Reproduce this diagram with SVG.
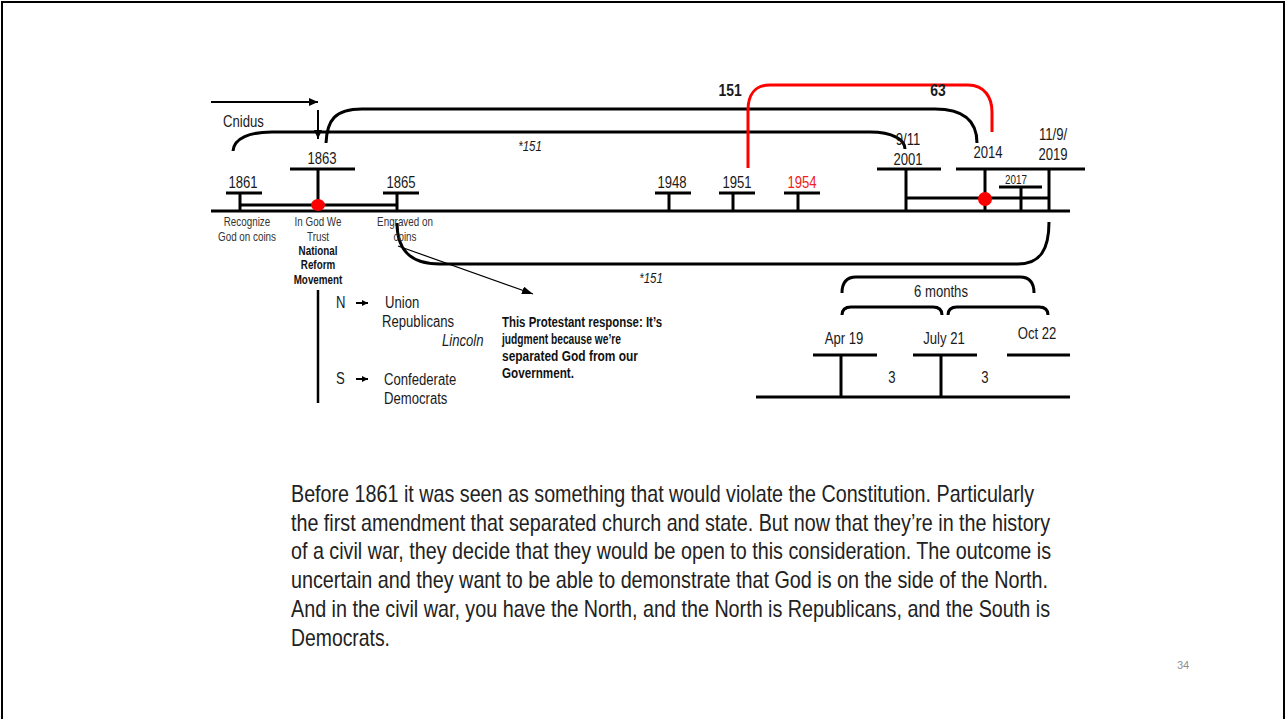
<svg xmlns="http://www.w3.org/2000/svg" width="1286" height="719" viewBox="0 0 1286 719">
<style>
.t{font-family:"Liberation Sans",Arial,sans-serif;fill:#1a1a1a}
.yr{font-size:16px;text-anchor:middle}
.sm{font-size:12px;text-anchor:middle;fill:#333}
.smb{font-size:12px;text-anchor:middle;font-weight:bold;fill:#111}
.lb{font-size:16px}
.ln{stroke:#000;stroke-width:3;fill:none}
.red{stroke:#f00;stroke-width:3;fill:none}
.par{font-size:24px;fill:#222}
.bld{font-size:14px;font-weight:bold;fill:#111}
</style>
<defs>
<marker id="ah" markerUnits="userSpaceOnUse" markerWidth="9" markerHeight="8" refX="9" refY="4" orient="auto"><path d="M0,0 L9,4 L0,8 z" fill="#000"/></marker>
<marker id="ahThin" markerUnits="userSpaceOnUse" markerWidth="11" markerHeight="8" refX="11" refY="4" orient="auto"><path d="M0,0 L11,4 L0,8 z" fill="#000"/></marker>
<marker id="ahSm" markerUnits="userSpaceOnUse" markerWidth="6" markerHeight="6" refX="6" refY="3" orient="auto"><path d="M0,0 L6,3 L0,6 z" fill="#000"/></marker>
</defs>
<rect x="0" y="0" width="1286" height="719" fill="#fff"/>
<path d="M2,719 L2,2 L1284,2 L1284,719" fill="none" stroke="#000" stroke-width="2"/>

<g id="connectors">
<path d="M211,102 L318,102" stroke="#000" stroke-width="2" fill="none" marker-end="url(#ah)"/>
<path d="M318,110 L318,139" stroke="#000" stroke-width="2" fill="none" marker-end="url(#ah)"/>
<path class="ln" d="M233,151 C234,138 250,132 272,132 L870,132 C893,132 905,140 905,149"/>
<path class="ln" d="M326,143 C327,120 335,109 362,109 L935,109 C962,109 977,120 977,143"/>
<path class="red" d="M748,168 L748,110 C748,95 755,85 770,85 L968,85 C985,85 992,98 992,112 L992,132"/>
<path class="ln" d="M397,223 C397,250 410,264 440,264 L1018,264 C1040,264 1049,250 1049,222"/>
<path d="M398,246 L533,294" stroke="#000" stroke-width="1.2" fill="none" marker-end="url(#ahThin)"/>
<path class="ln" d="M842,293 C842,282 847,277 856,277 L1020,277 C1029,277 1034,282 1034,293"/>
<path class="ln" d="M842,315 C842,310 845,307 851,307 L933,307 C939,307 942,310 942,315"/>
<path class="ln" d="M948,315 C948,310 951,307 957,307 L1039,307 C1045,307 1048,310 1048,315"/>
</g>

<g id="timeline">
<line class="ln" x1="211" y1="211" x2="1070" y2="211"/>
<line class="ln" x1="240" y1="205" x2="397" y2="205"/>
<line class="ln" x1="906" y1="198" x2="1049" y2="198"/>
</g>

<g id="labels-top">
<text class="t lb" transform="translate(223,127) scale(.82,1)">Cnidus</text>
<text class="t" transform="translate(730,96) scale(.82,1)" font-size="17" font-weight="bold" text-anchor="middle">151</text>
<text class="t" transform="translate(938,96) scale(.82,1)" font-size="17" font-weight="bold" text-anchor="middle">63</text>
<text class="t" transform="translate(530,151) scale(.82,1)" font-size="14" font-style="italic" text-anchor="middle" fill="#333">*151</text>
<text class="t" transform="translate(651,283) scale(.82,1)" font-size="14" font-style="italic" text-anchor="middle" fill="#333">*151</text>
</g>

<g id="n1861">
<line class="ln" x1="226" y1="193" x2="262" y2="193"/>
<line class="ln" x1="240" y1="193" x2="240" y2="211"/>
<text class="t yr" transform="translate(243,188) scale(.82,1)">1861</text>
<text class="t sm" transform="translate(247,226) scale(.82,1)">Recognize</text>
<text class="t sm" transform="translate(247,241) scale(.82,1)">God on coins</text>
</g>

<g id="n1863">
<line class="ln" x1="290" y1="169" x2="355" y2="169"/>
<line class="ln" x1="318" y1="169" x2="318" y2="211"/>
<ellipse cx="318" cy="205" rx="7" ry="6" fill="#f00"/>
<text class="t yr" transform="translate(322,164) scale(.82,1)">1863</text>
<text class="t sm" transform="translate(318,226) scale(.82,1)">In God We</text>
<text class="t sm" transform="translate(318,241) scale(.82,1)">Trust</text>
<text class="t smb" transform="translate(318,255) scale(.82,1)">National</text>
<text class="t smb" transform="translate(318,269) scale(.82,1)">Reform</text>
<text class="t smb" transform="translate(318,284) scale(.82,1)">Movement</text>
</g>

<g id="n1865">
<line class="ln" x1="383" y1="193" x2="419" y2="193"/>
<line class="ln" x1="397" y1="193" x2="397" y2="211"/>
<text class="t yr" transform="translate(401,188) scale(.82,1)">1865</text>
<text class="t sm" transform="translate(405,226) scale(.82,1)">Engraved on</text>
<text class="t sm" transform="translate(405,241) scale(.82,1)">coins</text>
</g>

<g id="n1948">
<line class="ln" x1="655" y1="193" x2="691" y2="193"/>
<line class="ln" x1="669" y1="193" x2="669" y2="211"/>
<text class="t yr" transform="translate(672,188) scale(.82,1)">1948</text>
</g>

<g id="n1951">
<line class="ln" x1="719" y1="193" x2="755" y2="193"/>
<line class="ln" x1="733" y1="193" x2="733" y2="211"/>
<text class="t yr" transform="translate(737,188) scale(.82,1)">1951</text>
</g>

<g id="n1954">
<line class="ln" x1="784" y1="193" x2="820" y2="193"/>
<line class="ln" x1="798" y1="193" x2="798" y2="211"/>
<text class="t yr" transform="translate(802,188) scale(.82,1)" style="fill:#f02020">1954</text>
</g>

<g id="n2001">
<line class="ln" x1="877" y1="169" x2="941" y2="169"/>
<line class="ln" x1="906" y1="169" x2="906" y2="211"/>
<text class="t yr" transform="translate(908,145) scale(.82,1)">9/11</text>
<text class="t yr" transform="translate(908,165) scale(.82,1)">2001</text>
</g>

<g id="n2014">
<line class="ln" x1="956" y1="169" x2="1085" y2="169"/>
<line class="ln" x1="985" y1="169" x2="985" y2="211"/>
<ellipse cx="985" cy="199" rx="7" ry="7" fill="#f00"/>
<text class="t yr" transform="translate(988,158) scale(.82,1)">2014</text>
</g>

<g id="n2017">
<line class="ln" x1="999" y1="187" x2="1042" y2="187"/>
<line class="ln" x1="1021" y1="187" x2="1021" y2="211"/>
<text class="t" transform="translate(1016,184) scale(.82,1)" font-size="12" text-anchor="middle">2017</text>
</g>

<g id="n2019">
<line class="ln" x1="1049" y1="169" x2="1049" y2="211"/>
<text class="t yr" transform="translate(1053,140) scale(.82,1)">11/9/</text>
<text class="t yr" transform="translate(1053,160) scale(.82,1)">2019</text>
</g>

<g id="civilwar">
<line x1="318" y1="290" x2="318" y2="403" stroke="#000" stroke-width="2.5"/>
<text class="t lb" transform="translate(336,308) scale(.82,1)">N</text>
<line x1="356" y1="303" x2="368" y2="303" stroke="#000" stroke-width="2" marker-end="url(#ahSm)"/>
<text class="t lb" transform="translate(385,308) scale(.82,1)">Union</text>
<text class="t lb" transform="translate(382,327) scale(.82,1)">Republicans</text>
<text class="t lb" transform="translate(442,346) scale(.82,1)" font-style="italic">Lincoln</text>
<text class="t lb" transform="translate(336,384) scale(.82,1)">S</text>
<line x1="356" y1="379" x2="368" y2="379" stroke="#000" stroke-width="2" marker-end="url(#ahSm)"/>
<text class="t lb" transform="translate(384,385) scale(.82,1)">Confederate</text>
<text class="t lb" transform="translate(384,404) scale(.82,1)">Democrats</text>
</g>

<g id="response">
<text class="t bld" x="502" y="327" textLength="160" lengthAdjust="spacingAndGlyphs">This Protestant response: It’s</text>
<text class="t bld" x="502" y="344" textLength="119" lengthAdjust="spacingAndGlyphs">judgment because we’re</text>
<text class="t bld" x="502" y="361" textLength="136" lengthAdjust="spacingAndGlyphs">separated God from our</text>
<text class="t bld" x="502" y="378" textLength="72" lengthAdjust="spacingAndGlyphs">Government.</text>
</g>

<g id="months">
<text class="t yr" transform="translate(941,297) scale(.82,1)">6 months</text>
<line class="ln" x1="813" y1="355" x2="877" y2="355"/>
<line class="ln" x1="913" y1="355" x2="977" y2="355"/>
<line class="ln" x1="1007" y1="355" x2="1070" y2="355"/>
<line class="ln" x1="841" y1="355" x2="841" y2="397"/>
<line class="ln" x1="941" y1="355" x2="941" y2="397"/>
<line class="ln" x1="756" y1="397" x2="1070" y2="397"/>
<text class="t yr" transform="translate(844,344) scale(.82,1)">Apr 19</text>
<text class="t yr" transform="translate(944,344) scale(.82,1)">July 21</text>
<text class="t yr" transform="translate(1037,339) scale(.82,1)">Oct 22</text>
<text class="t yr" transform="translate(892,383) scale(.82,1)">3</text>
<text class="t yr" transform="translate(985,383) scale(.82,1)">3</text>
</g>

<g id="paragraph">
<text class="t par" x="291" y="502" textLength="743" lengthAdjust="spacingAndGlyphs">Before 1861 it was seen as something that would violate the Constitution. Particularly</text>
<text class="t par" x="291" y="531" textLength="759" lengthAdjust="spacingAndGlyphs">the first amendment that separated church and state. But now that they’re in the history</text>
<text class="t par" x="291" y="559" textLength="760" lengthAdjust="spacingAndGlyphs">of a civil war, they decide that they would be open to this consideration. The outcome is</text>
<text class="t par" x="291" y="588" textLength="757" lengthAdjust="spacingAndGlyphs">uncertain and they want to be able to demonstrate that God is on the side of the North.</text>
<text class="t par" x="291" y="617" textLength="759" lengthAdjust="spacingAndGlyphs">And in the civil war, you have the North, and the North is Republicans, and the South is</text>
<text class="t par" x="291" y="646" textLength="99" lengthAdjust="spacingAndGlyphs">Democrats.</text>
</g>

<text x="1183" y="669" font-family="Carlito,'Liberation Sans',sans-serif" font-size="12" fill="#8c8c8c" text-anchor="middle">34</text>
</svg>
